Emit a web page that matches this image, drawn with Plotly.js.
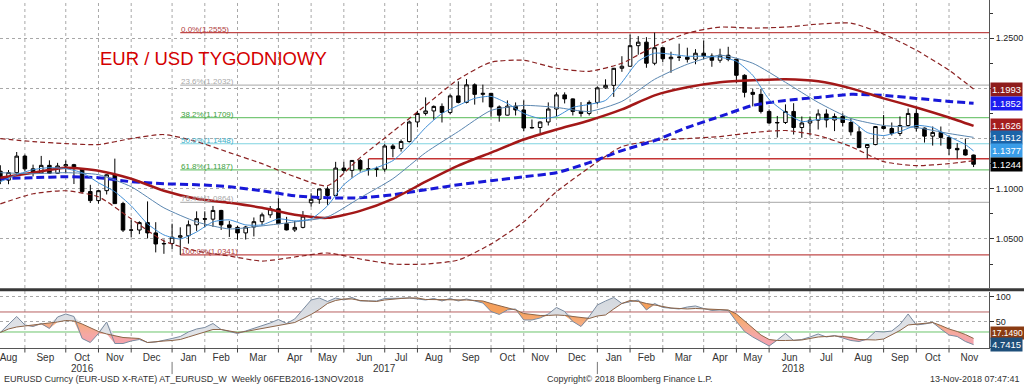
<!DOCTYPE html>
<html><head><meta charset="utf-8">
<script src="https://cdn.plot.ly/plotly-3.0.1.min.js"></script>
<style>html,body{margin:0;padding:0;background:#fff;}#chart{width:1024px;height:385px;}</style>
</head><body><div id="chart"></div>
<script>
// ---------------- DATA ----------------
const weekDates = ['2016-08-05','2016-08-12','2016-08-19','2016-08-26','2016-09-02','2016-09-09','2016-09-16','2016-09-23','2016-09-30','2016-10-07','2016-10-14','2016-10-21','2016-10-28','2016-11-04','2016-11-11','2016-11-18','2016-11-25','2016-12-02','2016-12-09','2016-12-16','2016-12-23','2016-12-30',
'2017-01-06','2017-01-13','2017-01-20','2017-01-27','2017-02-03','2017-02-10','2017-02-17','2017-02-24','2017-03-03','2017-03-10','2017-03-17','2017-03-24','2017-03-31','2017-04-07','2017-04-14','2017-04-21','2017-04-28','2017-05-05','2017-05-12','2017-05-19','2017-05-26','2017-06-02','2017-06-09','2017-06-16','2017-06-23','2017-06-30','2017-07-07','2017-07-14','2017-07-21','2017-07-28','2017-08-04','2017-08-11','2017-08-18','2017-08-25','2017-09-01','2017-09-08','2017-09-15','2017-09-22','2017-09-29','2017-10-06','2017-10-13','2017-10-20','2017-10-27','2017-11-03','2017-11-10','2017-11-17','2017-11-24','2017-12-01','2017-12-08','2017-12-15','2017-12-22','2017-12-29',
'2018-01-05','2018-01-12','2018-01-19','2018-01-26','2018-02-02','2018-02-09','2018-02-16','2018-02-23','2018-03-02','2018-03-09','2018-03-16','2018-03-23','2018-03-30','2018-04-06','2018-04-13','2018-04-20','2018-04-27','2018-05-04','2018-05-11','2018-05-18','2018-05-25','2018-06-01','2018-06-08','2018-06-15','2018-06-22','2018-06-29','2018-07-06','2018-07-13','2018-07-20','2018-07-27','2018-08-03','2018-08-10','2018-08-17','2018-08-24','2018-08-31','2018-09-07','2018-09-14','2018-09-21','2018-09-28','2018-10-05','2018-10-12','2018-10-19','2018-10-26','2018-11-02','2018-11-09','2018-11-16'];

const openP = [1.1175,1.1086,1.1161,1.1325,1.1198,1.1157,1.1233,1.1154,1.1227,1.1240,
1.1200,1.0972,1.0882,1.0981,1.1139,1.0852,1.0588,1.0589,1.0663,1.0560,
1.0450,1.0455,1.0517,1.0532,1.0641,1.0702,1.0697,1.0784,1.0640,1.0615,
1.0560,1.0619,1.0672,1.0740,1.0800,1.0652,1.0590,1.0615,1.0860,1.0895,
1.0998,1.0933,1.1206,1.1183,1.1282,1.1196,1.1198,1.1195,1.1426,1.1400,
1.1470,1.1665,1.1750,1.1775,1.1820,1.1760,1.1925,1.1860,1.2035,1.1940,
1.1950,1.1815,1.1733,1.1823,1.1785,1.1605,1.1610,1.1665,1.1794,1.1935,
1.1895,1.1770,1.1750,1.1860,1.2005,1.2030,1.2200,1.2220,1.2425,1.2460,
1.2250,1.2405,1.2295,1.2310,1.2310,1.2290,1.2350,1.2322,1.2280,1.2330,
1.2290,1.2130,1.1960,1.1940,1.1770,1.1655,1.1660,1.1770,1.1610,1.1655,
1.1683,1.1745,1.1685,1.1720,1.1660,1.1567,1.1410,1.1440,1.1620,1.1600,
1.1550,1.1630,1.1750,1.1604,1.1524,1.1561,1.1511,1.1402,1.1388,1.1336];
const highP = [1.1234,1.1186,1.1366,1.1340,1.1240,1.1327,1.1283,1.1258,1.1281,1.1248,
1.1205,1.1039,1.0987,1.1145,1.1300,1.0870,1.0687,1.0676,1.0874,1.0667,
1.0495,1.0652,1.0616,1.0684,1.0775,1.0775,1.0829,1.0790,1.0680,1.0630,
1.0630,1.0714,1.0762,1.0828,1.0906,1.0720,1.0680,1.0778,1.0955,1.0999,
1.1023,1.1268,1.1268,1.1285,1.1296,1.1296,1.1220,1.1445,1.1445,1.1490,
1.1680,1.1777,1.1910,1.1830,1.1850,1.1940,1.2070,1.2092,1.2050,1.2037,
1.1955,1.1830,1.1880,1.1860,1.1880,1.1690,1.1670,1.1860,1.1960,1.1960,
1.1900,1.1863,1.1880,1.2020,1.2090,1.2190,1.2320,1.2536,1.2520,1.2510,
1.2555,1.2413,1.2365,1.2445,1.2405,1.2390,1.2476,1.2348,1.2395,1.2414,
1.2290,1.2140,1.1995,1.1995,1.1790,1.1725,1.1840,1.1852,1.1720,1.1720,
1.1790,1.1791,1.1750,1.1750,1.1700,1.1620,1.1445,1.1625,1.1735,1.1660,
1.1720,1.1800,1.1815,1.1610,1.1620,1.1620,1.1530,1.1455,1.1500,1.1340];
const lowP = [1.1046,1.1045,1.1130,1.1177,1.1123,1.1150,1.1155,1.1150,1.1157,1.1047,
1.0953,1.0858,1.0852,1.0943,1.0851,1.0569,1.0518,1.0548,1.0505,1.0366,
1.0352,1.0400,1.0341,1.0453,1.0580,1.0619,1.0620,1.0590,1.0520,1.0493,
1.0494,1.0525,1.0635,1.0710,1.0650,1.0585,1.0570,1.0605,1.0821,1.0850,
1.0840,1.0925,1.1160,1.1110,1.1170,1.1131,1.1119,1.1170,1.1313,1.1370,
1.1460,1.1612,1.1730,1.1688,1.1660,1.1740,1.1850,1.1850,1.1838,1.1860,
1.1717,1.1668,1.1730,1.1730,1.1575,1.1600,1.1555,1.1630,1.1722,1.1850,
1.1730,1.1718,1.1730,1.1840,1.1995,1.1915,1.2165,1.2215,1.2335,1.2205,
1.2230,1.2260,1.2155,1.2272,1.2257,1.2240,1.2290,1.2215,1.2255,1.2270,
1.2055,1.1910,1.1820,1.1750,1.1650,1.1510,1.1645,1.1540,1.1508,1.1530,
1.1590,1.1610,1.1574,1.1620,1.1530,1.1405,1.1301,1.1433,1.1590,1.1530,
1.1525,1.1620,1.1570,1.1460,1.1430,1.1430,1.1336,1.1300,1.1330,1.1216];
const closeP = [1.1086,1.1161,1.1325,1.1198,1.1157,1.1233,1.1154,1.1227,1.1240,1.1200,
1.0972,1.0882,1.0981,1.1139,1.0852,1.0588,1.0589,1.0663,1.0560,1.0450,
1.0455,1.0517,1.0532,1.0641,1.0702,1.0697,1.0784,1.0640,1.0615,1.0560,
1.0619,1.0672,1.0740,1.0800,1.0652,1.0590,1.0615,1.0727,1.0895,1.0998,
1.0933,1.1206,1.1183,1.1282,1.1196,1.1198,1.1195,1.1426,1.1400,1.1470,
1.1665,1.1750,1.1775,1.1820,1.1760,1.1925,1.1860,1.2035,1.1940,1.1950,
1.1815,1.1733,1.1823,1.1785,1.1605,1.1610,1.1665,1.1794,1.1935,1.1895,
1.1770,1.1750,1.1860,1.2005,1.2030,1.2200,1.2220,1.2425,1.2460,1.2250,
1.2405,1.2295,1.2310,1.2310,1.2290,1.2350,1.2322,1.2280,1.2330,1.2290,
1.2130,1.1960,1.1940,1.1770,1.1655,1.1660,1.1770,1.1610,1.1655,1.1683,
1.1745,1.1685,1.1720,1.1660,1.1567,1.1410,1.1440,1.1620,1.1600,1.1550,
1.1630,1.1750,1.1604,1.1524,1.1561,1.1511,1.1402,1.1388,1.1336,1.1244];

const sampleIdx = [0,4,8,12,16,20,24,28,32,36,40,44,48,52,56,60,64,68,72,76,80,84,88,92,96,100,104,108,112,116,119];
const bbUpper = [1.150,1.147,1.145,1.144,1.150,1.154,1.147,1.136,1.125,1.112,1.103,1.131,1.157,1.183,1.209,1.226,1.228,1.220,1.217,1.225,1.242,1.255,1.261,1.260,1.261,1.264,1.265,1.254,1.238,1.218,1.1993];
const bbLower = [1.085,1.095,1.098,1.092,1.070,1.048,1.038,1.033,1.028,1.032,1.036,1.030,1.025,1.025,1.029,1.045,1.067,1.097,1.121,1.142,1.148,1.150,1.152,1.156,1.158,1.153,1.142,1.127,1.123,1.125,1.128];
const ma30 = [1.111,1.116,1.121,1.118,1.110,1.098,1.090,1.086,1.081,1.074,1.071,1.078,1.090,1.107,1.123,1.136,1.149,1.159,1.168,1.179,1.193,1.201,1.206,1.208,1.209,1.207,1.200,1.190,1.181,1.171,1.1626];
const ma52 = [1.110,1.111,1.112,1.111,1.107,1.105,1.104,1.102,1.098,1.093,1.091,1.091,1.094,1.099,1.104,1.108,1.112,1.116,1.126,1.138,1.148,1.161,1.172,1.183,1.188,1.191,1.194,1.193,1.190,1.187,1.1852];
const ma13 = [1.116,1.115,1.116,1.114,1.102,1.081,1.067,1.060,1.063,1.067,1.072,1.091,1.110,1.136,1.157,1.178,1.183,1.181,1.177,1.187,1.209,1.224,1.233,1.225,1.206,1.186,1.170,1.163,1.161,1.155,1.1512];
const fastIdx = [0,2,4,6,8,10,12,14,16,18,20,22,24,26,28,30,32,34,36,38,40,42,44,46,48,50,52,54,56,58,60,62,64,66,68,70,72,74,76,78,80,82,84,86,88,90,92,94,96,98,100,102,104,106,108,110,112,114,116,118,119];
const ma5 = [1.107,1.114,1.119,1.121,1.120,1.116,1.106,1.097,1.083,1.065,1.054,1.050,1.057,1.067,1.069,1.064,1.064,1.070,1.068,1.070,1.083,1.104,1.116,1.121,1.128,1.143,1.161,1.175,1.183,1.190,1.192,1.185,1.175,1.170,1.172,1.181,1.184,1.188,1.206,1.227,1.235,1.234,1.232,1.232,1.231,1.227,1.213,1.189,1.176,1.167,1.169,1.170,1.168,1.156,1.153,1.157,1.163,1.161,1.152,1.144,1.1377];

// stochastic (lower panel), weekly
const stochK = [29,45,61,44,41,47,37,60,66,61,
17,9,27,50,7,7,12,15,9,10,
13,17,21,30,36,39,47,35,31,27,
32,37,42,48,55,47,56,74,94,98,
91,98,94,99,92,92,92,97,97,97,
98,96,94,97,92,97,92,96,92,88,
71,65,74,76,54,54,58,66,79,71,
51,41,61,84,92,99,87,90,94,74,
87,79,77,76,80,82,77,73,74,73,
51,31,20,11,2,14,27,13,15,20,
26,20,23,18,13,11,16,31,30,32,
45,66,44,46,49,36,24,21,11,4.7415];
const stochD = [29,36,40,42,44,45,47,50,53,52,
46,38,31,26,22,19,18,17,9,11,
12,13,15,20,25,30,35,35,32,29,
31,34,38,41,44,47,49,57,65,75,
87,93,96,96,93,92,91,94,96,97,
98,98,95,95,95,95,94,94,93,92,
87,83,78,74,67,65,63,63,64,63,
61,58,57,62,64,76,87,93,91,87,
84,81,78,77,76,77,76,75,74,74,
66,52,38,24,15,13,13,13,14,17,
20,21,22,21,19,15,14,14,16,24,
33,44,46,47,49,43,36,31,25,17.149];

const fibPct = ['0.0%','23.6%','38.2%','50.0%','61.8%','76.4%','100.0%'];
const fibLevels = [1.2555,1.2032,1.1709,1.1448,1.1187,1.0864,1.0341];
const supportLevel = 1.1300;
const supportStart = '2017-06-16';
const stochLevels = [70, 30];
const priceTicks = [1.05, 1.10, 1.15, 1.20, 1.25];
const priceTickText = ['1.0500', '1.1000', '', '', '1.2500'];
const stochTicks = [0, 50, 100];
const stochTickText = ['', '50', '100'];
const monthNames = ['Jan','Feb','Mar','Apr','May','Jun','Jul','Aug','Sep','Oct','Nov','Dec'];

// ---------------- STYLE ----------------
const FONT = 'Liberation Sans, Arial, sans-serif';
const fibColors = ['#c04848','#b8b8b8','#78c878','#7fd3e0','#78c878','#b8b8b8','#c04848'];
const fibText = ['#b04040','#a8a8a8','#40a040','#40b0c8','#40a040','#a8a8a8','#b04040'];
const xRange = ['2016-08-04 17:00','2018-11-29 05:00'];

// ---------------- HELPERS ----------------
const DAY = 86400000;
function toMs(s){const p=s.slice(0,10).split('-').map(Number);return Date.UTC(p[0],p[1]-1,p[2]);}
function fromMs(ms){return new Date(ms).toISOString().slice(0,16).replace('T',' ');}
function addDays(s,n){return fromMs(toMs(s)+n*DAY).slice(0,10);}
function mid(a,b){return fromMs((toMs(a)+toMs(b))/2);}
const pick = (arr, idx) => idx.map(i => arr[i]);

// month boundaries = last weekly bar of each month
const bounds = [addDays(weekDates[0], -7)];
for (let i = 0; i < weekDates.length - 1; i++) {
  if (weekDates[i].slice(5,7) !== weekDates[i+1].slice(5,7)) bounds.push(weekDates[i]);
}
let lastB = weekDates[weekDates.length-1];
while (addDays(lastB,7).slice(5,7) === lastB.slice(5,7)) lastB = addDays(lastB,7);
bounds.push(lastB);

const monthCenters = [], monthLabels = [];
for (let k = 0; k < bounds.length - 1; k++) {
  monthCenters.push(mid(bounds[k], bounds[k+1]));
  monthLabels.push(monthNames[Number(addDays(bounds[k],7).slice(5,7)) - 1]);
}
const yearBounds = [bounds[0]];
bounds.slice(1, -1).forEach(b => { if (b.slice(5,7) === '12') yearBounds.push(b); });
yearBounds.push(bounds[bounds.length-1]);

// ---------------- TRACES ----------------
const sx = pick(weekDates, sampleIdx);
const fx = pick(weekDates, fastIdx);
const traces = [];

traces.push({type:'candlestick', x:weekDates, open:openP, high:highP, low:lowP, close:closeP,
  xaxis:'x', yaxis:'y', whiskerwidth:0,
  increasing:{line:{color:'#000',width:1}, fillcolor:'#ffffff'},
  decreasing:{line:{color:'#000',width:1}, fillcolor:'#000000'},
  hoverinfo:'skip', showlegend:false});

function line(x,y,color,width,dash,yaxis){
  return {type:'scatter', mode:'lines', x:x, y:y, xaxis:'x', yaxis:yaxis||'y',
    line:{color:color,width:width,dash:dash||'solid',shape:'spline',smoothing:0.6},
    hoverinfo:'skip', showlegend:false};
}
traces.push(line(sx, bbUpper, '#8b2222', 1.2, '5px,3px'));
traces.push(line(sx, bbLower, '#8b2222', 1.2, '5px,3px'));
traces.push(line(sx, ma52, '#1818d8', 3, '8px,4px'));
traces.push(line(sx, ma30, '#a31818', 2.5));
traces.push(line(sx, ma13, '#5a86b0', 1));
traces.push(line(fx, ma5, '#3f8ed6', 1));

// lower panel fills
const maxKD = stochK.map((k,i) => Math.max(k, stochD[i]));
const minKD = stochK.map((k,i) => Math.min(k, stochD[i]));
const base = {type:'scatter', mode:'lines', x:weekDates, xaxis:'x', yaxis:'y2', hoverinfo:'skip', showlegend:false};
traces.push(Object.assign({}, base, {y:stochD, line:{width:0,color:'rgba(0,0,0,0)'}}));
traces.push(Object.assign({}, base, {y:maxKD, line:{width:0,color:'rgba(0,0,0,0)'}, fill:'tonexty',
  fillcolor:'#dcdfe4',
  fillgradient:{type:'vertical', start:0, stop:100, colorscale:[[0,'#e6e8ec'],[1,'#d4d8de']]}}));
traces.push(Object.assign({}, base, {y:stochD, line:{width:0,color:'rgba(0,0,0,0)'}}));
traces.push(Object.assign({}, base, {y:minKD, line:{width:0,color:'rgba(0,0,0,0)'}, fill:'tonexty',
  fillcolor:'#f5b09a',
  fillgradient:{type:'vertical', start:0, stop:70, colorscale:[[0,'#f4a0b0'],[0.35,'#f5a8a4'],[0.7,'#f6ac7c'],[1,'#f5a05c']]}}));
traces.push(Object.assign({}, base, {y:stochK, line:{width:1,color:'#7a8ba0'}}));
traces.push(Object.assign({}, base, {y:stochD, line:{width:1,color:'#8c6448'}}));

// ---------------- SHAPES ----------------
const shapes = [];
bounds.slice(1, -1).forEach(b => {
  shapes.push({type:'line', xref:'x', yref:'paper', x0:b, x1:b, y0:0, y1:1, layer:'below',
    line:{color:'#a8a8a8', width:1, dash:'dot'}});
  shapes.push({type:'line', xref:'x', yref:'paper', x0:b, x1:b, y0:-0.013, y1:0,
    line:{color:'#444', width:1}});
});
yearBounds.slice(1, -1).forEach(b => {
  shapes.push({type:'line', xref:'x', yref:'paper', x0:b, x1:b, y0:-0.04, y1:-0.075,
    line:{color:'#777', width:1}});
});
const fibStart = weekDates[lowP.indexOf(Math.min.apply(null, lowP))];
fibLevels.forEach((lv, k) => {
  shapes.push({type:'line', xref:'x', yref:'y', x0:fibStart, x1:xRange[1], y0:lv, y1:lv, layer:'below',
    line:{color:fibColors[k], width:1.2}});
});
shapes.push({type:'line', xref:'x', yref:'y', x0:supportStart, x1:xRange[1], y0:supportLevel, y1:supportLevel,
  layer:'below', line:{color:'#c43434', width:1.5}});
stochLevels.forEach((lv, k) => {
  shapes.push({type:'line', xref:'paper', yref:'y2', x0:0, x1:1, y0:lv, y1:lv, layer:'below',
    line:{color: k === 0 ? '#b86060' : '#6cc46c', width:1}});
});
// panel separator
shapes.push({type:'rect', xref:'paper', yref:'paper', x0:0, x1:1.036, y0:0.1628, y1:0.1718,
  fillcolor:'#383838', line:{width:0}});

// ---------------- ANNOTATIONS ----------------
const ann = [];
ann.push({xref:'paper', yref:'paper', x:0.099, y:0.832, xanchor:'left', yanchor:'middle', showarrow:false,
  text:'EUR / USD TYGODNIOWY', font:{family:'Liberation Sans, Arial', size:18.5, color:'#d40000'}});
fibLevels.forEach((lv, k) => {
  ann.push({xref:'x', yref:'y', x:fibStart, y:lv, xanchor:'left', yanchor:'bottom', showarrow:false,
    borderpad:0, yshift:-2, text: fibPct[k] + '(' + lv.toFixed(4) + ')',
    font:{family:FONT, size:8, color:fibText[k]}});
});
const yearNames = ['2016','2017','2018'];
for (let k = 0; k < yearBounds.length - 1; k++) {
  ann.push({xref:'x', yref:'paper', x:mid(yearBounds[k], yearBounds[k+1]), y:-0.058, xanchor:'center', yanchor:'middle',
    showarrow:false, text:yearNames[k], font:{family:FONT, size:10, color:'#333'}});
}
function tag(val, yref, bg, yshift, size){
  return {xref:'paper', yref:yref, x:1, y:val, xanchor:'left', yanchor:'middle', xshift:1, yshift:yshift||0,
    showarrow:false, text: val.toFixed(4), bgcolor:bg, borderpad:1,
    font:{family:FONT, size:size||9.5, color:'#ffffff'}};
}
const L = a => a[a.length-1];
ann.push(tag(L(bbUpper), 'y', '#8e1c1c'));
ann.push(tag(L(ma52), 'y', '#1c1cf0'));
ann.push(tag(L(ma30), 'y', '#a41e1e'));
ann.push(tag(L(ma13), 'y', '#1c64a8'));
ann.push(tag(L(ma5), 'y', '#3a9de8'));
ann.push(tag(L(closeP), 'y', '#000000'));
ann.push(tag(L(stochD), 'y2', '#8a3b12', 5, 8.5));
ann.push(tag(L(stochK), 'y2', '#1e4f7a'));
ann.push({xref:'paper', yref:'paper', x:0.002, y:-0.089, xanchor:'left', yanchor:'middle', showarrow:false,
  text:'EURUSD Curncy (EUR-USD X-RATE) AT_EURUSD_W  Weekly 06FEB2016-13NOV2018', font:{family:FONT, size:9, color:'#333'}});
ann.push({xref:'paper', yref:'paper', x:0.551, y:-0.089, xanchor:'left', yanchor:'middle', showarrow:false,
  text:'Copyright© 2018 Bloomberg Finance L.P.', font:{family:FONT, size:9, color:'#333'}});
ann.push({xref:'paper', yref:'paper', x:1.0334, y:-0.089, xanchor:'right', yanchor:'middle', showarrow:false,
  text:'13-Nov-2018 07:47:41', font:{family:FONT, size:9, color:'#333'}});

// ---------------- LAYOUT ----------------
const layout = {
  width:1024, height:385, margin:{l:0, r:35, t:0, b:37, pad:0},
  paper_bgcolor:'#ffffff', plot_bgcolor:'#ffffff', showlegend:false, hovermode:false,
  boxgap:0.38,
  font:{family:FONT, size:10, color:'#333'},
  xaxis:{type:'date', range:xRange, anchor:'y2', showgrid:false, zeroline:false,
    tickmode:'array', tickvals:monthCenters, ticktext:monthLabels, ticks:'', ticklabeloverflow:'allow',
    showline:true, linecolor:'#555', linewidth:1, tickfont:{family:FONT, size:10, color:'#333'},
    rangeslider:{visible:false}, fixedrange:true},
  yaxis:{domain:[0.172,1], side:'right', anchor:'x', range:[1.001,1.288], tickmode:'array',
    tickvals:priceTicks, ticktext:priceTickText, ticks:'outside', ticklen:4, tickcolor:'#333',
    showgrid:true, gridcolor:'#a8a8a8', griddash:'dot',
    showline:true, linecolor:'#555', zeroline:false, tickfont:{family:FONT, size:9, color:'#222'},
    minor:{dtick:0.025, tick0:1.0, ticks:'outside', ticklen:3, tickcolor:'#333', showgrid:false}},
  yaxis2:{domain:[0,0.161], side:'right', anchor:'x', range:[-2,110], tickmode:'array', tickvals:stochTicks,
    ticktext:stochTickText, ticks:'outside', ticklen:4, tickcolor:'#333', showgrid:true, gridcolor:'#a8a8a8',
    griddash:'dot', showline:true, linecolor:'#555', zeroline:false, tickfont:{family:FONT, size:9, color:'#222'}},
  shapes:shapes, annotations:ann
};
Plotly.newPlot('chart', traces, layout, {staticPlot:true, displayModeBar:false});
</script></body></html>
